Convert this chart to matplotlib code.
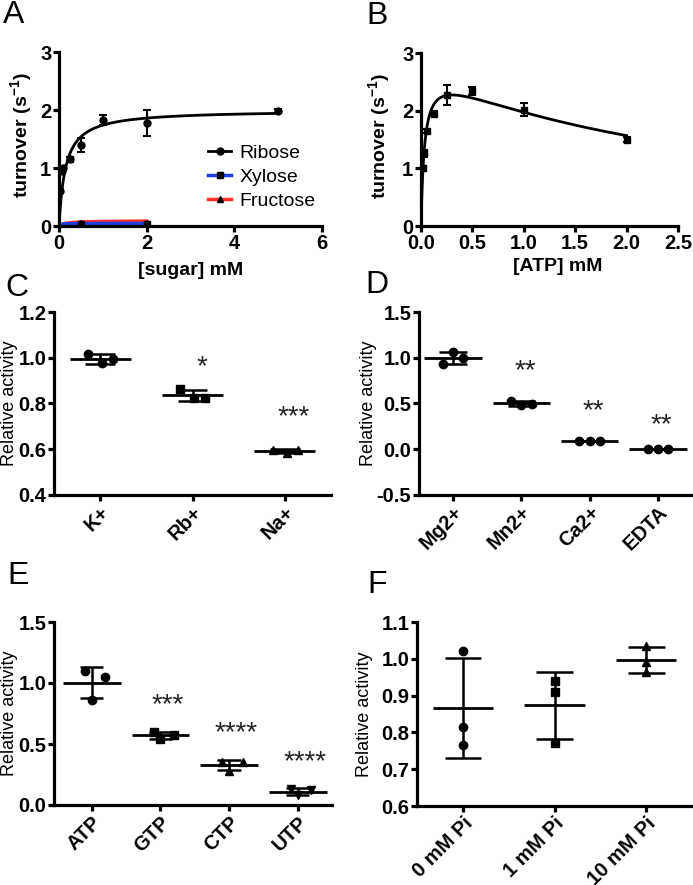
import matplotlib
matplotlib.use('Agg')
import matplotlib.pyplot as plt
import numpy as np

plt.rcParams['font.family'] = ['Liberation Sans', 'DejaVu Sans']
plt.rcParams['mathtext.fontset'] = 'custom'
plt.rcParams['mathtext.rm'] = 'Liberation Sans'
plt.rcParams['mathtext.bf'] = 'Liberation Sans:bold'

# ---------------- data ----------------
# A: sugar kinetics
ribose_x = [0.03, 0.06, 0.1, 0.25, 0.5, 1.0, 2.0, 5.0]
ribose_y = [0.6, 0.95, 1.0, 1.15, 1.4, 1.83, 1.78, 1.98]
ribose_err = [0.03, 0.03, 0.03, 0.04, 0.12, 0.09, 0.22, 0.03]
ribose_fit = (2.0, 0.15)          # Vmax, Km
other_x = [0.5, 2.0]
xylose_y = [0.04, 0.04]
fructose_y = [0.06, 0.06]
xylose_fit = (0.045, 0.03)
fructose_fit = (0.09, 0.15)

# B: ATP kinetics (substrate inhibition)
atp_x = [0.015, 0.031, 0.0625, 0.125, 0.25, 0.5, 1.0, 2.0]
atp_y = [1.0, 1.26, 1.65, 1.95, 2.27, 2.34, 2.02, 1.5]
atp_err = [0.04, 0.06, 0.04, 0.05, 0.17, 0.07, 0.11, 0.05]
atp_fit = (2.8, 0.035, 2.6)       # Vmax, Km, Ki

# C: monovalent cations
mono_labels = ['K+', 'Rb+', 'Na+']
mono_vals = [[1.018, 0.975, 0.996], [0.865, 0.822, 0.822], [0.598, 0.583, 0.596]]
mono_stars = ['', '*', '***']
mono_star_y = [0, 0.995, 0.775]

# D: divalent cations
div_labels = ['Mg2+', 'Mn2+', 'Ca2+', 'EDTA']
div_vals = [[0.93, 1.06, 1.0], [0.53, 0.48, 0.49], [0.09, 0.09, 0.09], [0.0, 0.0, 0.0]]
div_stars = ['', '**', '**', '**']
div_star_y = [0, 0.935, 0.5, 0.345]

# E: nucleotides
nuc_labels = ['ATP', 'GTP', 'CTP', 'UTP']
nuc_vals = [[1.1, 0.86, 1.05], [0.6, 0.54, 0.57], [0.35, 0.28, 0.35], [0.13, 0.08, 0.12]]
nuc_stars = ['', '***', '****', '****']
nuc_star_y = [0, 0.88, 0.65, 0.415]

# F: phosphate
pi_labels = ['0 mM Pi', '1 mM Pi', '10 mM Pi']
pi_vals = [[1.02, 0.815, 0.765], [0.94, 0.91, 0.77], [1.035, 0.99, 0.965]]

W, H = 693, 885
TICK_FS = 14.5
CAT_FS = 15.5
fig = plt.figure(figsize=(W / 100, H / 100), dpi=100)


def add_ax(l, t, r, b):
    return fig.add_axes([l / W, 1 - b / H, (r - l) / W, (b - t) / H])


def style(ax):
    for s in ['top', 'right']:
        ax.spines[s].set_visible(False)
    for s in ['left', 'bottom']:
        ax.spines[s].set_linewidth(2.3)
    ax.tick_params(direction='out', length=4, width=2.3, labelsize=TICK_FS, pad=1.5)
    for lab in ax.get_xticklabels() + ax.get_yticklabels():
        lab.set_fontweight('bold')


def mm(x, vmax, km):
    return vmax * x / (km + x)


# ---------------- A ----------------
axA = add_ax(59, 52, 322, 226)
xs = np.linspace(0.0, 5.0, 400)
axA.plot(xs, mm(xs, *ribose_fit), color='black', lw=2)
axA.errorbar(ribose_x, ribose_y, yerr=ribose_err, fmt='o', color='black', ms=5,
             capsize=3, elinewidth=1.5, capthick=1.5)
xs2 = np.linspace(0.0, 2.0, 200)
axA.plot(xs2, mm(xs2, *fructose_fit), color='#ff2a2a', lw=2.5)
axA.plot(xs2, mm(xs2, *xylose_fit), color='#1f3fdc', lw=2.5)
axA.plot(other_x, fructose_y, '^', color='black', ms=5)
axA.plot(other_x, xylose_y, 's', color='black', ms=5)
axA.set_xlim(0, 6)
axA.set_ylim(0, 3)
axA.set_xticks([0, 2, 4, 6])
axA.set_yticks([0, 1, 2, 3])
axA.set_ylabel(r'turnover (s$^{\mathbf{-1}}$)', fontsize=14, fontweight='bold')
axA.set_xlabel('[sugar] mM', fontsize=14, fontweight='bold')
axA.yaxis.set_label_coords(-0.09, 0.52)
axA.xaxis.set_label_coords(0.5, -0.205)
h1, = axA.plot([], [], '-o', color='black', ms=5, lw=2)
h2, = axA.plot([], [], '-s', color='#1f3fdc', mfc='black', mec='black', ms=5, lw=2.5)
h3, = axA.plot([], [], '-^', color='#ff2a2a', mfc='black', mec='black', ms=5, lw=2.5)
axA.legend([h1, h2, h3], ['Ribose', 'Xylose', 'Fructose'], loc='upper left',
           bbox_to_anchor=(0.53, 0.525), frameon=False, fontsize=14,
           handlelength=1.2, handletextpad=0.4, labelspacing=0.33, borderpad=0)
style(axA)

# ---------------- B ----------------
axB = add_ax(421, 53, 678, 226)
xb = np.linspace(0.002, 2.0, 600)
vmax, km, ki = atp_fit
axB.plot(xb, vmax * xb / (km + xb * (1 + xb / ki)), color='black', lw=2)
axB.errorbar(atp_x, atp_y, yerr=atp_err, fmt='s', color='black', ms=4.5,
             capsize=3, elinewidth=1.5, capthick=1.5)
axB.set_xlim(0, 2.5)
axB.set_ylim(0, 3)
axB.set_xticks([0, 0.5, 1.0, 1.5, 2.0, 2.5])
axB.set_xticklabels(['0.0', '0.5', '1.0', '1.5', '2.0', '2.5'])
axB.set_yticks([0, 1, 2, 3])
axB.set_ylabel(r'turnover (s$^{\mathbf{-1}}$)', fontsize=14, fontweight='bold')
axB.set_xlabel('[ATP] mM', fontsize=14, fontweight='bold')
axB.yaxis.set_label_coords(-0.11, 0.52)
axB.xaxis.set_label_coords(0.53, -0.185)
style(axB)


# ---------------- scatter panels ----------------
def scatter_panel(ax, labels, vals, markers, jit, half, cap, stars=None, star_y=None,
                  star_dx=0.06):
    star_fs = 20
    for i, v in enumerate(vals):
        v = np.array(v)
        m = v.mean()
        sd = v.std(ddof=1)
        xs = i + np.array(jit)
        ax.plot(xs, v, linestyle='none', marker=markers[i], color='black', ms=6)
        ax.hlines(m, i - half, i + half, color='black', lw=2)
        ax.vlines(i, m - sd, m + sd, color='black', lw=1.8)
        ax.hlines([m - sd, m + sd], i - cap, i + cap, color='black', lw=1.8)
        if stars is not None and stars[i]:
            ax.annotate(stars[i], xy=(i + star_dx, star_y[i]),
                        xytext=(0, -0.54 * star_fs), textcoords='offset points',
                        ha='center', va='baseline', fontsize=star_fs, color='#222222')
    ax.set_xticks(range(len(labels)))
    ax.set_xticklabels(labels, rotation=45, ha='right', rotation_mode='anchor',
                       fontsize=CAT_FS, fontweight='bold')
    ax.set_xlim(-0.5, len(labels) - 0.5)
    ax.set_ylabel('Relative activity', fontsize=13)


axC = add_ax(54, 312, 331, 495)
scatter_panel(axC, mono_labels, mono_vals, ['o', 's', '^'], [-0.13, 0.02, 0.14],
              0.33, 0.16, mono_stars, mono_star_y, 0.1)
axC.set_ylim(0.4, 1.2)
axC.set_yticks([0.4, 0.6, 0.8, 1.0, 1.2])
axC.yaxis.set_major_formatter(matplotlib.ticker.FormatStrFormatter('%.1f'))
axC.yaxis.set_label_coords(-0.13, 0.5)
style(axC)

axD = add_ax(419, 312, 692, 495)
scatter_panel(axD, div_labels, div_vals, ['o', 'o', 'o', 'o'], [-0.15, 0.0, 0.15],
              0.42, 0.2, div_stars, div_star_y, 0.05)
axD.set_ylim(-0.5, 1.5)
axD.set_yticks([-0.5, 0.0, 0.5, 1.0, 1.5])
axD.yaxis.set_major_formatter(matplotlib.ticker.FormatStrFormatter('%.1f'))
axD.yaxis.set_label_coords(-0.155, 0.5)
style(axD)

axE = add_ax(54, 622, 332, 805)
scatter_panel(axE, nuc_labels, nuc_vals, ['o', 's', '^', 'v'], [-0.1, 0.0, 0.2],
              0.42, 0.17, nuc_stars, nuc_star_y, 0.1)
axE.set_ylim(0, 1.5)
axE.set_yticks([0.0, 0.5, 1.0, 1.5])
axE.set_xlim(-0.55, 3.5)
axE.yaxis.set_major_formatter(matplotlib.ticker.FormatStrFormatter('%.1f'))
axE.yaxis.set_label_coords(-0.13, 0.5)
style(axE)

axF = add_ax(417, 622, 692, 806)
scatter_panel(axF, pi_labels, pi_vals, ['o', 's', '^'], [0, 0, 0], 0.33, 0.2)
axF.set_ylim(0.6, 1.1)
axF.set_yticks([0.6, 0.7, 0.8, 0.9, 1.0, 1.1])
axF.yaxis.set_major_formatter(matplotlib.ticker.FormatStrFormatter('%.1f'))
axF.yaxis.set_label_coords(-0.16, 0.5)
style(axF)

# panel letters
for letter, x, y in [('A', 14, 15), ('B', 377, 16), ('C', 17, 288), ('D', 377, 285),
                     ('E', 18, 576), ('F', 377, 585)]:
    fig.text(x / W, 1 - y / H, letter, fontsize=23, ha='center', va='center')

fig.savefig('out.png', dpi=100)
